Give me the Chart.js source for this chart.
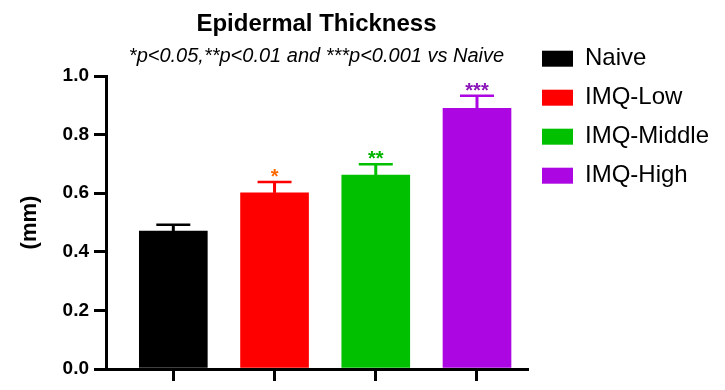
<!DOCTYPE html>
<html>
<head>
<meta charset="utf-8">
<script src="https://cdn.jsdelivr.net/npm/chart.js@4.4.1/dist/chart.umd.min.js"></script>
<style>
  html, body { margin: 0; padding: 0; background: #ffffff; }
  #wrap { width: 725px; height: 390px; }
</style>
</head>
<body>
<div id="wrap"><canvas id="c" width="725" height="390"></canvas></div>
<script>
// ---- data ----
const categories = ['Naive', 'IMQ-Low', 'IMQ-Middle', 'IMQ-High'];
const means = [0.471, 0.601, 0.662, 0.890];
const sems = [0.021, 0.037, 0.037, 0.043];
const significance = ['', '*', '**', '***'];
const yTicks = [0.0, 0.2, 0.4, 0.6, 0.8, 1.0];

// ---- styles ----
const barColors = ['#000000', '#ff0000', '#00c000', '#ac07e2'];
const starColors = ['#000000', '#ff6a00', '#00b400', '#8a14b8'];
const FONT = '"Liberation Sans", Arial, Helvetica, sans-serif';
const LEGEND_WIDTH = 198;
Chart.defaults.font.family = FONT;
Chart.defaults.color = '#000000';

// let the legend box be wider than the default quarter-width limit
const legendWidthFix = {
  id: 'legendWidthFix',
  beforeLayout(chart) {
    const lg = chart.legend;
    if (lg && !lg._widthPatched) {
      const origFit = lg.fit.bind(lg);
      lg.fit = function () { origFit(); this.width = LEGEND_WIDTH; };
      lg._widthPatched = true;
    }
  }
};

const errorBars = {
  id: 'errorBars',
  afterDatasetsDraw(chart) {
    const ctx = chart.ctx;
    const yScale = chart.scales.y;
    const meta = chart.getDatasetMeta(0);
    meta.data.forEach((bar, i) => {
      const x = bar.x;
      const topPx = yScale.getPixelForValue(means[i] + sems[i]);
      ctx.save();
      ctx.strokeStyle = barColors[i];
      ctx.lineWidth = 3;
      ctx.beginPath();
      ctx.moveTo(x, bar.y);
      ctx.lineTo(x, topPx);
      ctx.stroke();
      ctx.lineWidth = 2.5;
      ctx.beginPath();
      ctx.moveTo(x - 17, topPx);
      ctx.lineTo(x + 17, topPx);
      ctx.stroke();
      if (significance[i]) {
        ctx.fillStyle = starColors[i];
        ctx.font = 'bold 20px ' + FONT;
        ctx.textAlign = 'center';
        ctx.textBaseline = 'alphabetic';
        ctx.fillText(significance[i], x, topPx + 1);
      }
      ctx.restore();
    });
  }
};

new Chart(document.getElementById('c'), {
  type: 'bar',
  data: {
    datasets: [{
      data: categories.map((c, i) => ({ x: i + 1, y: means[i] })),
      backgroundColor: barColors,
      borderWidth: 0,
      barThickness: 68
    }]
  },
  options: {
    responsive: false,
    animation: false,
    layout: { padding: { left: 0, right: 0, top: 0, bottom: 0 } },
    plugins: {
      title: {
        display: true,
        text: 'Epidermal Thickness',
        fullSize: false,
        color: '#000',
        font: { size: 24, weight: 'bold' },
        padding: { top: 10, bottom: 0 }
      },
      subtitle: {
        display: true,
        text: '*p<0.05,**p<0.01 and ***p<0.001 vs Naive',
        fullSize: false,
        color: '#000',
        font: { size: 20, style: 'italic' },
        padding: { top: 5.5, bottom: 7.7 }
      },
      legend: {
        position: 'right',
        align: 'start',
        title: { display: true, text: '', font: { size: 1 }, padding: { top: 30.5, bottom: 0 } },
        labels: {
          boxWidth: 31,
          boxHeight: 16,
          padding: 15,
          color: '#000',
          font: { size: 24 },
          generateLabels: () => categories.map((c, i) => ({
            text: c, fillStyle: barColors[i], strokeStyle: barColors[i],
            lineWidth: 0, hidden: false, index: i
          }))
        }
      },
      tooltip: { enabled: false }
    },
    scales: {
      x: {
        type: 'linear',
        offset: false,
        min: 0.335,
        max: 4.494,
        afterBuildTicks: s => { s.ticks = categories.map((c, i) => ({ value: i + 1 })); },
        afterFit: s => { s.height = 21; },
        ticks: { display: false },
        grid: { display: true, offset: false, drawOnChartArea: false, drawTicks: true, tickLength: 12, lineWidth: 3, color: '#000' },
        border: { display: true, width: 3, color: '#000' }
      },
      y: {
        min: 0,
        max: 1,
        afterBuildTicks: s => { s.ticks = yTicks.map(v => ({ value: v })); },
        afterFit: s => { s.width = 106; },
        ticks: { callback: v => Number(v).toFixed(1), font: { size: 19, weight: 'bold' }, color: '#000', padding: 5 },
        grid: { drawOnChartArea: false, drawTicks: true, tickLength: 12, lineWidth: 3, color: '#000' },
        border: { display: true, width: 3, color: '#000' },
        title: { display: true, text: '(mm)', color: '#000', font: { size: 22, weight: 'bold' }, padding: { top: 17, bottom: 0 } }
      }
    }
  },
  plugins: [legendWidthFix, errorBars]
});
</script>
</body>
</html>
